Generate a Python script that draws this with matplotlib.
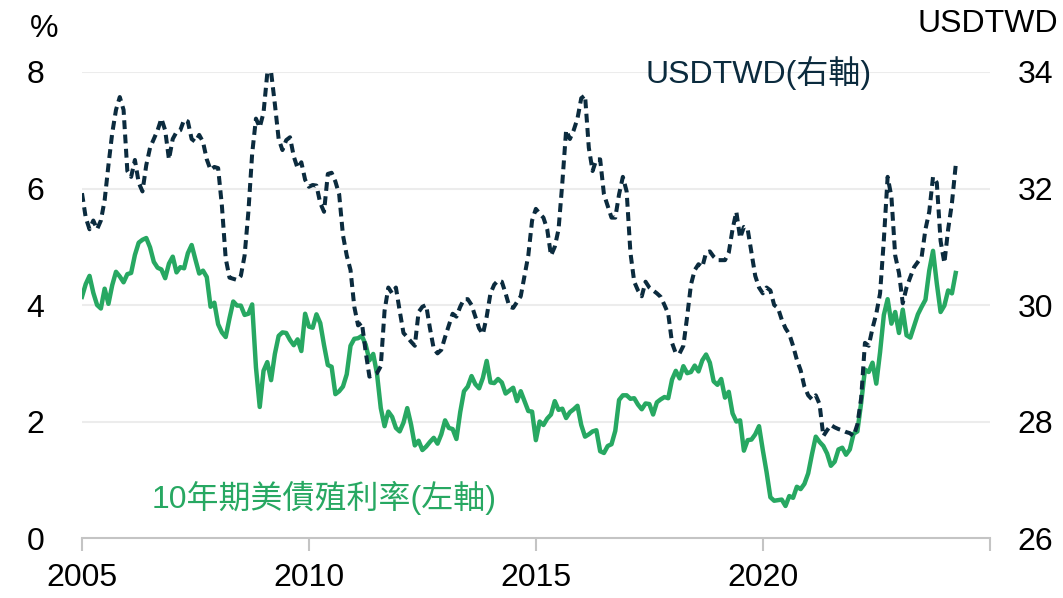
import matplotlib
matplotlib.use("Agg")
import matplotlib.pyplot as plt
import numpy as np
import pandas as pd

plt.rcParams["font.family"] = ["Liberation Sans", "Noto Sans CJK TC", "DejaVu Sans"]

# month-end values, Jan 2005 .. Apr 2024
start_month = "2005-01"

ust10y = [
    4.14, 4.36, 4.50, 4.21, 4.00, 3.94, 4.28, 4.02, 4.34, 4.57, 4.49, 4.39,
    4.53, 4.55, 4.86, 5.07, 5.12, 5.15, 4.99, 4.74, 4.64, 4.61, 4.46, 4.71,
    4.83, 4.56, 4.65, 4.63, 4.89, 5.03, 4.78, 4.54, 4.59, 4.48, 3.97, 4.04,
    3.67, 3.53, 3.45, 3.77, 4.06, 3.99, 3.99, 3.83, 3.85, 4.01, 2.93, 2.25,
    2.87, 3.02, 2.71, 3.16, 3.47, 3.53, 3.52, 3.40, 3.31, 3.41, 3.21, 3.85,
    3.63, 3.61, 3.84, 3.69, 3.31, 2.97, 2.94, 2.47, 2.52, 2.60, 2.81, 3.30,
    3.42, 3.43, 3.47, 3.32, 3.05, 3.16, 2.82, 2.23, 1.92, 2.17, 2.08, 1.89,
    1.83, 1.98, 2.23, 1.95, 1.59, 1.67, 1.51, 1.57, 1.65, 1.72, 1.62, 1.78,
    2.02, 1.89, 1.87, 1.70, 2.16, 2.52, 2.60, 2.78, 2.64, 2.57, 2.75, 3.04,
    2.67, 2.66, 2.73, 2.67, 2.48, 2.53, 2.58, 2.35, 2.52, 2.35, 2.18, 2.17,
    1.68, 2.00, 1.94, 2.05, 2.12, 2.35, 2.20, 2.22, 2.06, 2.16, 2.21, 2.27,
    1.94, 1.74, 1.78, 1.83, 1.85, 1.49, 1.46, 1.58, 1.61, 1.84, 2.37, 2.45,
    2.45, 2.39, 2.40, 2.29, 2.21, 2.31, 2.30, 2.12, 2.33, 2.38, 2.42, 2.40,
    2.72, 2.87, 2.74, 2.95, 2.83, 2.85, 2.96, 2.86, 3.05, 3.15, 3.01, 2.69,
    2.63, 2.73, 2.41, 2.51, 2.14, 2.00, 2.02, 1.50, 1.68, 1.69, 1.78, 1.92,
    1.51, 1.13, 0.70, 0.64, 0.65, 0.66, 0.55, 0.72, 0.69, 0.88, 0.84, 0.93,
    1.11, 1.44, 1.74, 1.65, 1.58, 1.45, 1.24, 1.31, 1.52, 1.55, 1.43, 1.52,
    1.79, 1.83, 2.32, 2.89, 2.85, 3.01, 2.65, 3.19, 3.83, 4.10, 3.68, 3.88,
    3.52, 3.92, 3.48, 3.44, 3.64, 3.84, 3.97, 4.09, 4.59, 4.93, 4.37, 3.88,
    3.99, 4.25, 4.20, 4.55,
]

usdtwd = [
    31.92, 31.50, 31.30, 31.45, 31.30, 31.45, 31.80, 32.40, 32.95, 33.35, 33.57, 33.35,
    32.30, 32.20, 32.49, 32.10, 31.95, 32.40, 32.70, 32.85, 33.00, 33.20, 33.00, 32.50,
    32.85, 32.97, 33.00, 33.18, 33.15, 32.85, 32.80, 32.92, 32.80, 32.50, 32.32, 32.37,
    32.35, 31.70, 30.80, 30.47, 30.45, 30.43, 30.50, 30.85, 31.60, 32.60, 33.20, 33.05,
    33.30, 33.98, 34.00, 33.45, 32.85, 32.66, 32.83, 32.88, 32.55, 32.35, 32.45, 32.15,
    32.03, 32.06, 32.05, 31.75, 31.60, 32.25, 32.27, 32.12, 31.90, 31.20, 30.85, 30.60,
    29.97, 29.65, 29.70, 29.20, 28.77, 28.80, 28.83, 28.95, 29.90, 30.30, 30.20, 30.30,
    29.90, 29.52, 29.45, 29.37, 29.30, 29.88, 29.97, 30.00, 29.60, 29.25, 29.17, 29.23,
    29.45, 29.65, 29.85, 29.80, 29.97, 30.10, 30.10, 30.00, 29.80, 29.60, 29.50, 29.80,
    30.20, 30.35, 30.42, 30.40, 30.20, 29.97, 29.95, 30.05, 30.15, 30.50, 30.85, 31.45,
    31.65, 31.57, 31.50, 31.30, 30.85, 31.00, 31.30, 32.10, 33.00, 32.85, 33.00, 33.20,
    33.55, 33.60, 32.70, 32.30, 32.50, 32.50, 31.90, 31.70, 31.50, 31.50, 31.90, 32.20,
    31.95, 30.90, 30.40, 30.25, 30.15, 30.40, 30.30, 30.25, 30.20, 30.14, 30.00, 29.85,
    29.35, 29.17, 29.17, 29.30, 29.80, 30.35, 30.60, 30.70, 30.65, 30.90, 30.92, 30.83,
    30.77, 30.77, 30.77, 30.90, 31.30, 31.60, 31.15, 31.34, 31.30, 30.90, 30.50, 30.30,
    30.20, 30.30, 30.25, 30.00, 29.95, 29.75, 29.60, 29.50, 29.30, 29.06, 28.88, 28.60,
    28.45, 28.38, 28.45, 28.30, 27.75, 27.85, 27.94, 27.90, 27.87, 27.85, 27.82, 27.80,
    27.75, 27.95, 28.40, 29.35, 29.30, 29.60, 29.85, 30.20, 31.12, 32.20, 31.86, 30.85,
    30.55, 30.03, 30.30, 30.48, 30.65, 30.74, 30.83, 31.30, 31.60, 32.20, 32.10, 31.10,
    30.72, 31.30, 31.75, 32.40,
]

year_ticks = [2005, 2010, 2015, 2020, 2025]
year_labels = ["2005", "2010", "2015", "2020", ""]
left_ticks = [0, 2, 4, 6, 8]
right_ticks = [26, 28, 30, 32, 34]

GREEN = "#27A862"
NAVY = "#0B2B3E"
GRID = "#ECECEC"
AXIS = "#C4C4C4"
FS = 23

months = pd.date_range(start_month, periods=len(ust10y), freq="MS")
x = months.year + (months.month - 1) / 12.0

fig = plt.figure(figsize=(10.63, 5.98), dpi=100)
ax = fig.add_axes([0.0771, 0.1003, 0.854, 0.7793])
ax2 = ax.twinx()

ax.plot(x, ust10y, color=GREEN, lw=3.2, zorder=3)
ax2.plot(x, usdtwd, color=NAVY, lw=2.9, linestyle=(0, (2.2, 1.35)), zorder=3)

ax.set_xlim(2005, 2025)
ax.set_ylim(0, 8)
ax2.set_ylim(26, 34)

for g in left_ticks[1:]:
    ax.axhline(g, color=GRID, lw=1.5, zorder=0)

ax.set_xticks(year_ticks)
ax.set_xticklabels(year_labels)
ax.set_yticks(left_ticks)
ax2.set_yticks(right_ticks)

ax.tick_params(axis="x", length=9, width=1.5, color=AXIS, pad=9, labelsize=FS)
ax.tick_params(axis="y", length=0, pad=27, labelsize=FS)
ax2.tick_params(axis="y", length=0, pad=20, labelsize=FS)

for a in (ax, ax2):
    for side in ("top", "left", "right"):
        a.spines[side].set_visible(False)
ax2.spines["bottom"].set_visible(False)
ax.spines["bottom"].set_color(AXIS)
ax.spines["bottom"].set_linewidth(1.5)

fig.text(0.0414, 0.938, "%", ha="center", va="baseline", fontsize=FS)
fig.text(0.9953, 0.9465, "USDTWD", ha="right", va="baseline", fontsize=FS)
fig.text(0.6077, 0.8612, "USDTWD(右軸)", ha="left", va="baseline",
         fontsize=FS, color=NAVY)
fig.text(0.143, 0.1505, "10年期美債殖利率(左軸)", ha="left", va="baseline",
         fontsize=FS, color=GREEN)

fig.savefig("out.png", dpi=100)
